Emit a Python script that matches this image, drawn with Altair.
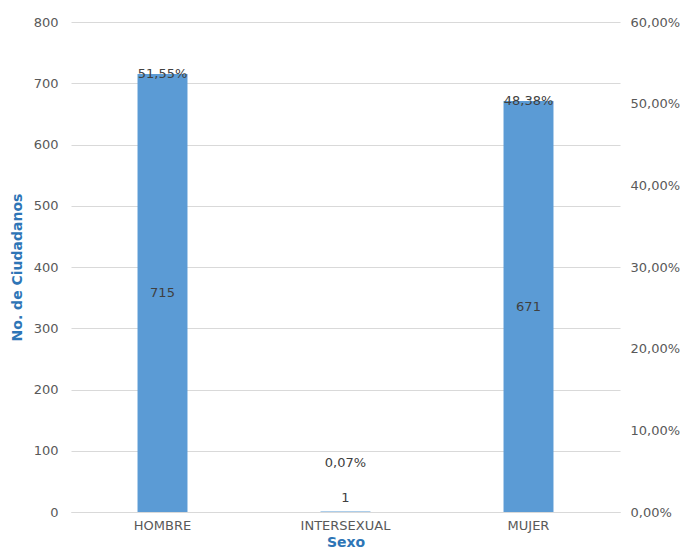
import altair as alt
import pandas as pd

categorias = ["HOMBRE", "INTERSEXUAL", "MUJER"]
ciudadanos = [715, 1, 671]
porcentajes = [0.5155, 0.0007, 0.4838]
etiquetas_pct = ["51,55%", "0,07%", "48,38%"]

df = pd.DataFrame({
    "Sexo": categorias,
    "valor": ciudadanos,
    "pct": porcentajes,
    "pct_label": etiquetas_pct,
})

FONT = "DejaVu Sans"
GRAY = "#595959"
BLUE = "#2E75B6"
FS = 13

x = alt.X("Sexo:N", sort=categorias, title="Sexo",
          axis=alt.Axis(labelAngle=0, labelFontSize=FS, labelColor=GRAY, labelFont=FONT,
                        titleFontSize=14, titleColor=BLUE, titleFont=FONT, titleFontWeight=600,
                        ticks=False, domain=True, domainColor="#D9D9D9", labelPadding=7,
                        titlePadding=3),
          scale=alt.Scale(paddingInner=0.727, paddingOuter=0.3635))

y_left = alt.Y("valor:Q", title="No. de Ciudadanos",
               scale=alt.Scale(domain=[0, 800]),
               axis=alt.Axis(values=[0, 100, 200, 300, 400, 500, 600, 700, 800],
                             labelFontSize=FS, labelColor=GRAY, labelFont=FONT,
                             titleFontSize=14, titleColor=BLUE, titleFont=FONT, titleFontWeight=600,
                             ticks=False, domain=False, gridColor="#D9D9D9", labelPadding=13,
                             titlePadding=9))

base = alt.Chart(df)

bars = base.mark_bar(color="#5B9BD5").encode(x=x, y=y_left)

count_mid = base.transform_filter("datum.valor >= 20").transform_calculate(
    mid="datum.valor / 2").mark_text(fontSize=FS, color="#404040", font=FONT).encode(
    x=alt.X("Sexo:N", sort=categorias), y=alt.Y("mid:Q"), text="valor:Q")

count_small = base.transform_filter("datum.valor < 20").mark_text(
    fontSize=FS, color="#404040", font=FONT, dy=-13).encode(
    x=alt.X("Sexo:N", sort=categorias), y=alt.Y("valor:Q"), text="valor:Q")

pct_big = base.transform_filter("datum.valor >= 20").mark_text(
    fontSize=FS, color="#404040", font=FONT, baseline="middle").encode(
    x=alt.X("Sexo:N", sort=categorias), y=alt.Y("valor:Q"), text="pct_label:N")

pct_small = base.transform_filter("datum.valor < 20").mark_text(
    fontSize=FS, color="#404040", font=FONT, dy=-48).encode(
    x=alt.X("Sexo:N", sort=categorias), y=alt.Y("valor:Q"), text="pct_label:N")

left = alt.layer(bars, count_mid, count_small, pct_big, pct_small)

right = base.mark_point(opacity=0).encode(
    x=alt.X("Sexo:N", sort=categorias),
    y=alt.Y("pct:Q", title=None, scale=alt.Scale(domain=[0, 0.6]),
            axis=alt.Axis(orient="right", values=[0, 0.1, 0.2, 0.3, 0.4, 0.5, 0.6],
                          labelExpr="replace(format(datum.value * 100, '.2f'), '.', ',') + '%'",
                          labelFontSize=FS, labelColor=GRAY, labelFont=FONT,
                          ticks=False, domain=False, grid=False, labelPadding=10)))

chart = alt.layer(left, right).resolve_scale(y="independent").properties(
    width=549, height=490,
    autosize=alt.AutoSizeParams(type="none"),
    padding={"left": 63, "top": 14, "right": 62, "bottom": 38},
).configure_view(stroke=None)

chart.save("out.html", embed_options={"renderer": "svg", "actions": False})
